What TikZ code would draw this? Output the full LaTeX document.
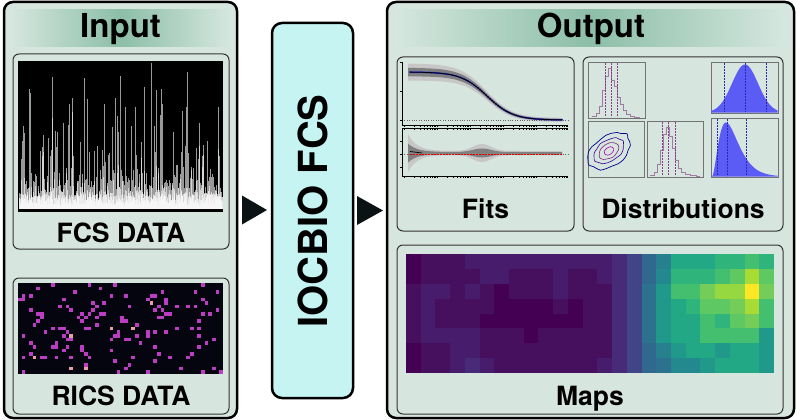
\documentclass[tikz,border=0pt]{standalone}
\usepackage{fontspec}
\setmainfont{TeX Gyre Heros}
\definecolor{boxbg}{HTML}{D7E5DF}
\definecolor{bandL}{HTML}{D6E7DF}
\definecolor{bandM}{HTML}{8CBEA8}
\definecolor{cyanbg}{HTML}{C6F4F2}
\definecolor{arrowc}{HTML}{0A1214}
\definecolor{ricsbg}{HTML}{05050F}
\definecolor{mag}{HTML}{BC3CC4}
\definecolor{pinkp}{HTML}{E8A0A8}
\definecolor{histc}{HTML}{A07AA0}
\definecolor{dashp}{HTML}{8B3A8B}
\definecolor{bluef}{HTML}{5B5BF5}
\definecolor{blued}{HTML}{2828B0}
\definecolor{v0}{HTML}{440154}
\definecolor{v1}{HTML}{46105F}
\definecolor{v2}{HTML}{481C6C}
\definecolor{v3}{HTML}{472B78}
\definecolor{v4}{HTML}{414487}
\definecolor{v5}{HTML}{3B528B}
\definecolor{v6}{HTML}{355F8D}
\definecolor{v7}{HTML}{31688E}
\definecolor{v8}{HTML}{2C728E}
\definecolor{v9}{HTML}{27808E}
\definecolor{v10}{HTML}{23898E}
\definecolor{v11}{HTML}{20998A}
\definecolor{v12}{HTML}{22A884}
\definecolor{v13}{HTML}{2FB47C}
\definecolor{v14}{HTML}{44BF70}
\definecolor{v15}{HTML}{5EC962}
\definecolor{v16}{HTML}{74CD58}
\definecolor{v17}{HTML}{95D840}
\definecolor{v18}{HTML}{A8DB34}
\definecolor{v19}{HTML}{DFE318}
\definecolor{v20}{HTML}{FDE725}
\begin{document}
\begin{tikzpicture}[x=1pt,y=-1pt,
  outerbox/.style={draw=black, line width=2.5pt, rounded corners=9pt, fill=boxbg, inner sep=0pt, outer sep=0pt},
  innerbox/.style={draw=black!80, line width=1pt, rounded corners=6pt, fill=boxbg, inner sep=0pt, outer sep=0pt},
  toolbox/.style={draw=black, line width=2.5pt, rounded corners=10pt, fill=cyanbg, inner sep=0pt, outer sep=0pt},
  titletext/.style={font=\fontsize{33}{36}\selectfont\bfseries, anchor=base, inner sep=0pt},
  labtext/.style={font=\fontsize{26.5}{30}\selectfont\bfseries, anchor=base, inner sep=0pt},
  axc/.style={draw=black!55, line width=0.6pt},
  hist/.style={draw=histc, line width=0.7pt},
  dashpv/.style={draw=dashp, line width=0.6pt, dash pattern=on 2pt off 1pt},
  dashbv/.style={draw=blued, line width=0.6pt, dash pattern=on 2pt off 1pt},
  trace/.style={draw=white, line width=0.45pt, opacity=0.6},
  tracebase/.style={draw=white, line width=0.45pt, opacity=0.55},
  declare function={sig(\t)=120-48/(1+exp((\t-487)/13));
                    wa(\t)=2+6.5/(1+exp((\t-480)/15));
                    wr(\t)=2+17*exp(-(\t-408)/9)+7*exp(-1*(((\t-482)/13)^2));}
]
\useasboundingbox (0,0) rectangle (800,420);

% ---------- main boxes ----------
\node[outerbox, minimum width=233pt, minimum height=416pt] (input) at (120.5,210) {};
\node[toolbox, minimum width=81pt, minimum height=375pt] (tool) at (312.5,210.5) {};
\node[outerbox, minimum width=407pt, minimum height=416pt] (output) at (590.5,210) {};

% header bands
\shade[left color=bandL, right color=bandL, middle color=bandM] (9,10) rectangle (232,47);
\shade[left color=bandL, right color=bandL, middle color=bandM] (394,10) rectangle (787,47);
\node[titletext] (tin) at (120.5,37.5) {Input};
\node[titletext] (tout) at (591,37.5) {Output};

% tool label
\node[font=\fontsize{40}{44}\selectfont\bfseries, rotate=90, inner sep=0pt] (tlab) at (313,211) {IOCBIO FCS};

% arrows
\fill[arrowc] (input.east) ++(5,-14.5) -- ++(25,14.5) -- ++(-25,14.5) -- cycle;
\fill[arrowc] (tool.east) ++(4,-14.5) -- ++(26,14.5) -- ++(-26,14.5) -- cycle;

% ---------- input sub boxes ----------
\node[innerbox, minimum width=216pt, minimum height=195pt] (fcsbox) at (121,151.5) {};
\node[innerbox, minimum width=216pt, minimum height=136pt] (ricsbox) at (121,346) {};
\node[labtext] (lfcs) at (121,242) {FCS DATA};
\node[labtext] (lrics) at (121,405.5) {RICS DATA};

% FCS trace
\fill[black] (18,61) rectangle (223,212);
\pgfmathsetseed{31}
\foreach \i in {0,...,406} {
  \pgfmathsetmacro\h{min(146,4+12*rnd+26*rnd^2+125*rnd^9)}
  \draw[trace] (19+\i*0.5,209) -- ++(0,-\h);
}
\pgfmathsetseed{77}
\foreach \i in {0,...,406} {
  \pgfmathsetmacro\h{3+12*rnd+8*rnd^3}
  \draw[tracebase] (19.25+\i*0.5,209) -- ++(0,-\h);
}

% RICS pixels
\fill[ricsbg] (18,283) rectangle (223,374);
\pgfmathsetseed{11}
\foreach \i in {0,...,55} {
  \foreach \j in {0,...,24} {
    \pgfmathtruncatemacro\hit{int(rnd*1000)}
    \ifnum\hit<85
      \ifnum\hit<5
        \fill[pinkp] (18+\i*3.66,283+\j*3.64) rectangle ++(3.66,3.64);
      \else
        \fill[mag] (18+\i*3.66,283+\j*3.64) rectangle ++(3.66,3.64);
      \fi
    \fi
  }
}

% ---------- output sub boxes ----------
\node[innerbox, minimum width=177pt, minimum height=174pt] (fitsbox) at (485.5,144) {};
\node[innerbox, minimum width=200pt, minimum height=174pt] (distbox) at (683,144) {};
\node[innerbox, minimum width=386pt, minimum height=169pt] (mapsbox) at (590,329.5) {};
\node[labtext] (lfits) at (485.5,218) {Fits};
\node[labtext] (ldist) at (683,218) {Distributions};
\node[labtext] (lmaps) at (590,405) {Maps};

% ---------- fits plot ----------
% upper panel
\fill[black!22] plot[domain=408:562,samples=70] (\x,{sig(\x)-wa(\x)}) -- plot[domain=562:408,samples=70] (\x,{sig(\x)+wa(\x)}) -- cycle;
\fill[black!50] plot[domain=408:562,samples=70] (\x,{sig(\x)-0.5*wa(\x)}) -- plot[domain=562:408,samples=70] (\x,{sig(\x)+0.5*wa(\x)}) -- cycle;
\draw[black!60, line width=0.4pt, dotted] (402,120) -- (568,120);
\foreach \x in {410,412,...,562} {
  \fill[blue!85!black, opacity=0.85] (\x,{sig(\x)}) circle (1.1);
}
\draw[black, line width=0.8pt] plot[domain=410:562,samples=70] (\x,{sig(\x)});
\draw[black, line width=0.6pt] (402,62) -- (402,125) -- (568,125);
\foreach \y in {62,91,120} \draw[black, line width=0.4pt] (399.5,\y) -- (402,\y);
% lower panel
\fill[black!22] plot[domain=408:562,samples=80] (\x,{153-wr(\x)}) -- plot[domain=562:408,samples=80] (\x,{153+wr(\x)}) -- cycle;
\fill[black!50] plot[domain=408:562,samples=80] (\x,{153-0.5*wr(\x)}) -- plot[domain=562:408,samples=80] (\x,{153+0.5*wr(\x)}) -- cycle;
\draw[black!60, line width=0.4pt, dotted] (402,154) -- (568,154);
\pgfmathsetseed{5}
\draw[black!45, line width=0.5pt] plot[domain=410:562,samples=80] (\x,{154+1.0*rand});
\draw[black, line width=0.7pt] (410,151.5) -- (422,153);
\draw[red!90!black, line width=0.7pt, dash pattern=on 2pt off 1pt] (410,154) -- (562,154);
\draw[black, line width=0.6pt] (402,128) -- (402,176) -- (568,176);
\draw[black, line width=0.4pt] (402,128) -- (568,128);
\foreach \y in {141,154,167} \draw[black, line width=0.4pt] (399.5,\y) -- (402,\y);
\foreach \d in {404,437,470,503,536} {
  \foreach \m in {1,...,9} {
    \pgfmathsetmacro\tx{\d+33*log10(\m)}
    \draw[black, line width=0.3pt] (\tx,125) -- ++(0,1.5);
    \draw[black, line width=0.3pt] (\tx,128) -- ++(0,1.5);
    \draw[black, line width=0.3pt] (\tx,176) -- ++(0,1.5);
  }
}

% ---------- distributions ----------
% top-left histogram
\draw[axc] (588,62) rectangle (645,118);
\draw[hist] (592,117) |- (596,116) |- (599,113.5) |- (602,106) |- (605,90) |- (608,76) |- (611,68) |- (614,80) |- (617,86) |- (620,97) |- (623,104) |- (626,110) |- (630,114) |- (634,116) |- (640,117);
\foreach \x in {605,611,617} \draw[dashpv] (\x,63) -- (\x,117);
% bottom-left contours
\draw[axc] (588,121) rectangle (644,177);
\pgfmathsetseed{9}
\begin{scope}[rotate around={35:(609,151)}]
\draw[draw=blue!55!black, line width=0.7pt] plot[smooth cycle, domain=0:345, samples=24, variable=\a] ({609+24*(1+0.07*rand)*cos(\a)},{151+15*(1+0.07*rand)*sin(\a)});
\draw[draw=blue!45!violet!80!black, line width=0.6pt] plot[smooth cycle, domain=0:340, samples=18, variable=\a] ({609+17*(1+0.07*rand)*cos(\a)},{151+10.5*(1+0.07*rand)*sin(\a)});
\draw[draw=violet!70!gray, line width=0.6pt] plot[smooth cycle, domain=0:330, samples=12, variable=\a] ({609+11*(1+0.07*rand)*cos(\a)},{151+7*(1+0.07*rand)*sin(\a)});
\draw[draw=violet!60!magenta, line width=0.6pt] plot[smooth cycle, domain=0:315, samples=8, variable=\a] ({609+5.5*(1+0.06*rand)*cos(\a)},{151+3.5*(1+0.06*rand)*sin(\a)});
\end{scope}
% bottom-middle histogram
\draw[axc] (647,121) rectangle (703,177);
\draw[hist] (650,176) |- (654,175) |- (657,172) |- (660,164) |- (663,150) |- (666,134) |- (669,127) |- (672,136) |- (675,148) |- (678,160) |- (681,168) |- (685,172) |- (690,174.5) |- (696,175.5) |- (700,176);
\foreach \x in {662,668,675} \draw[dashpv] (\x,122) -- (\x,176);
% top-right gaussian
\draw[axc] (711,62) rectangle (778,113);
\fill[bluef] (711.3,112.5) -- plot[domain=711.3:777.7,samples=60] (\x,{112.5-48*exp(-0.5*((\x-745)/13)^2)}) -- (777.7,112.5) -- cycle;
\foreach \x in {724,745,766} \draw[dashbv] (\x,63) -- (\x,112);
% bottom-right skewed
\draw[axc] (711,118) rectangle (778,177);
\fill[bluef] (712,176.5) -- plot[domain=712:777.7,samples=70] (\x,{176.5-54*((\x-712)/14)^2*exp(2-2*(\x-712)/14)}) -- (777.7,176.5) -- cycle;
\foreach \x in {717,727,746} \draw[dashbv] (\x,119) -- (\x,176);

% ---------- heatmap ----------
\foreach \row [count=\r from 0] in {
 {0,1,1,1,2,2,2,2,2,2,2,2,2,2,3,4,7,9,12,12,12,13,13,14,13},
 {0,1,1,1,1,2,2,1,1,1,2,1,1,2,3,4,7,10,13,13,13,14,15,18,15},
 {1,2,2,1,2,1,0,1,1,1,2,1,1,1,3,4,8,11,14,14,16,17,17,20,16},
 {1,2,1,1,1,1,0,0,0,0,1,0,1,1,3,4,8,11,12,13,15,15,16,18,14},
 {1,2,1,1,1,0,0,0,0,0,0,0,1,1,3,4,8,11,12,12,14,13,15,16,14},
 {1,2,2,2,2,1,1,1,0,1,1,1,1,1,3,4,8,11,12,12,14,14,14,14,11},
 {0,1,1,2,2,1,1,1,1,1,1,1,1,1,3,4,7,9,11,12,12,11,12,12,11},
 {0,1,1,2,3,2,1,1,1,1,1,1,1,2,3,4,7,8,10,10,11,12,12,12,11}} {
  \foreach \v [count=\c from 0] in \row {
    \fill[fill=v\v] (406+\c*14.72,254+\r*14.875) rectangle ++(14.9,15.05);
  }
}
\end{tikzpicture}
\end{document}
